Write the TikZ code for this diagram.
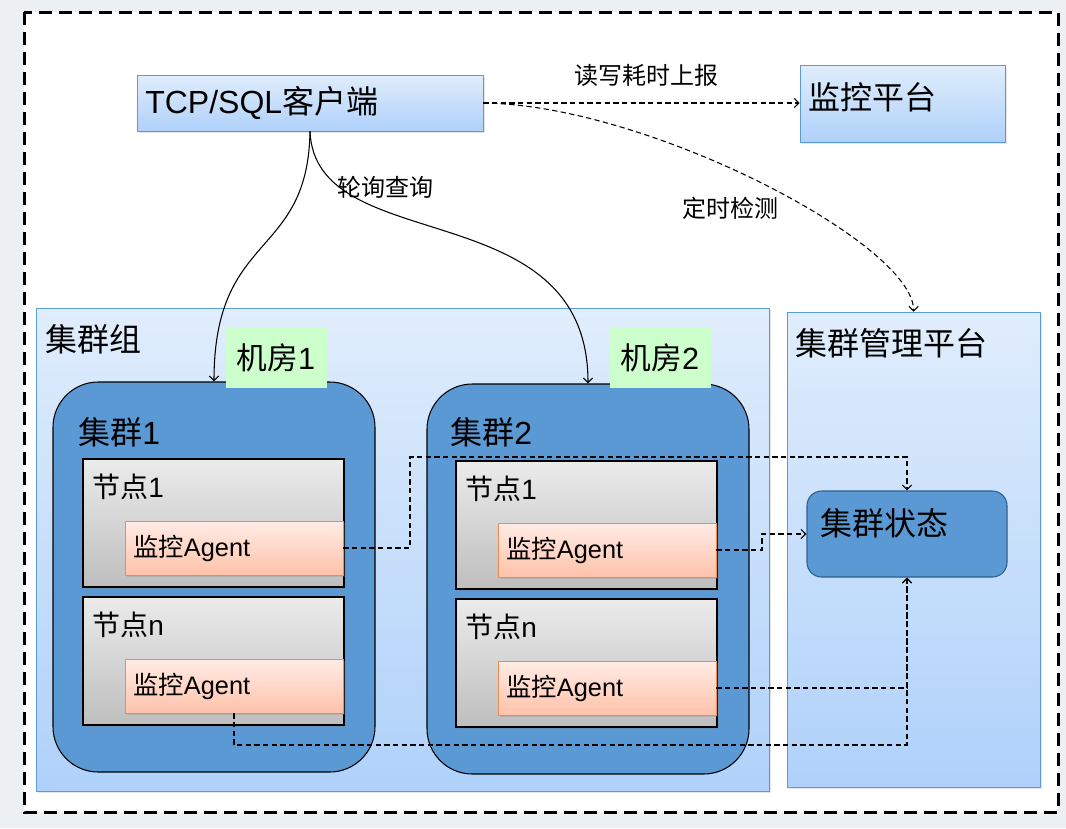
\documentclass[tikz,border=0pt]{standalone}
\usepackage{fontspec}
\setmainfont{Noto Sans CJK SC}
\newfontfamily\lat{Liberation Sans}
\usetikzlibrary{fit,shadows,arrows.meta}

\definecolor{edgeblue}{HTML}{5B9BD5}
\definecolor{paneltop}{HTML}{E0EDFC}
\definecolor{panelbot}{HTML}{AFD1FA}
\definecolor{clublue}{HTML}{5B99D4}
\definecolor{roomgreen}{HTML}{CCFFCC}
\definecolor{agenttop}{HTML}{FFECE5}
\definecolor{agentbot}{HTML}{FFC2AA}
\definecolor{agentedge}{HTML}{F28A4E}
\definecolor{hosttop}{HTML}{EBEBEB}
\definecolor{hostbot}{HTML}{BEBEBE}
\definecolor{stedge}{HTML}{2E5E8E}
\definecolor{slidebg}{HTML}{ECF0F3}

\begin{document}
\begin{tikzpicture}[x=0.75pt,y=-0.75pt,>={Straight Barb[length=3.5pt,width=7pt]},
	bigtxt/.style={inner sep=0pt,font=\fontsize{24}{28}\selectfont},
	hosttxt/.style={inner sep=0pt,font=\fontsize{21}{25}\selectfont},
	midtxt/.style={inner sep=0pt,font=\fontsize{19}{23}\selectfont},
	smtxt/.style={inner sep=0pt,font=\fontsize{18}{22}\selectfont},
	link/.style={->,line width=.8pt},
	dlink/.style={->,line width=.8pt,dash pattern=on 4pt off 2.5pt},
	panel/.style={draw=edgeblue,top color=paneltop,bottom color=panelbot,inner sep=0pt,
		drop shadow={shadow xshift=1.5pt,shadow yshift=-1.5pt,opacity=.2}},
	cluster/.style={draw=black,fill=clublue,rounded corners=34pt,inner sep=0pt,line width=.8pt},
	room/.style={fill=roomgreen,minimum width=75.75pt,minimum height=45pt,
		font=\fontsize{23}{27}\selectfont},
	hostbox/.style={draw=black,top color=hosttop,bottom color=hostbot,inner sep=0pt,line width=.8pt,
		drop shadow={shadow xshift=1.5pt,shadow yshift=-1.5pt,opacity=.25}},
	agentbox/.style={draw=agentedge,top color=agenttop,bottom color=agentbot,inner sep=0pt,
		drop shadow={shadow xshift=1.5pt,shadow yshift=-1.5pt,opacity=.25}},
	statebox/.style={draw=stedge,fill=clublue,rounded corners=11pt,inner sep=0pt,line width=.8pt},
	outer/.style={draw=black,line width=2.25pt,dash pattern=on 10pt off 5pt}]
	\useasboundingbox (0,0) rectangle (1066,828);
	\fill[slidebg] (0,0) rectangle (1066,828);
	\fill[white] (24,12) rectangle (1058,812);
	\draw[outer] (24,12) rectangle (1058,812);

	% top row
	\node[panel,fit={(137,75)(483,131)}] (cli) {};
	\node[bigtxt,anchor=west] (cliT) at (145,103) {{\lat TCP/SQL}客户端};
	\node[panel,fit={(800,65)(1005,142)}] (mon) {};
	\node[bigtxt,anchor=west] (monT) at (808,97) {监控平台};

	% group and management panels
	\node[panel,fit={(36,308)(769,791)}] (grp) {};
	\node[bigtxt,anchor=west] (grpT) at (45,339) {集群组};
	\node[panel,fit={(787,312)(1040,787)}] (mgr) {};
	\node[bigtxt,anchor=west] (mgrT) at (795,343) {集群管理平台};

	% clusters
	\node[cluster,fit={(53,382)(375,772)}] (c1) {};
	\node[bigtxt,anchor=west] (c1T) at (78,432) {集群{\lat 1}};
	\node[cluster,fit={(427,384)(749,774)}] (c2) {};
	\node[bigtxt,anchor=west] (c2T) at (450,432) {集群{\lat 2}};
	\node[room] (r1) at (276,358) {机房{\lat 1}};
	\node[room] (r2) at (660,358) {机房{\lat 2}};

	% nodes of cluster 1
	\node[hostbox,fit={(83,459)(344,587)}] (h11) {};
	\node[hosttxt,anchor=west] (h11T) at (92,487) {节点{\lat 1}};
	\node[agentbox,fit={(125,521)(343,575)}] (a11) {};
	\node[midtxt,anchor=west] (a11T) at (133,548) {监控{\lat Agent}};
	\node[hostbox,fit={(83,597)(344,725)}] (h12) {};
	\node[hosttxt,anchor=west] (h12T) at (92,625) {节点{\lat n}};
	\node[agentbox,fit={(125,659)(343,713)}] (a12) {};
	\node[midtxt,anchor=west] (a12T) at (133,686) {监控{\lat Agent}};

	% nodes of cluster 2
	\node[hostbox,fit={(456,461)(717,589)}] (h21) {};
	\node[hosttxt,anchor=west] (h21T) at (465,489) {节点{\lat 1}};
	\node[agentbox,fit={(498,523)(716,577)}] (a21) {};
	\node[midtxt,anchor=west] (a21T) at (506,550) {监控{\lat Agent}};
	\node[hostbox,fit={(456,599)(717,727)}] (h22) {};
	\node[hosttxt,anchor=west] (h22T) at (465,627) {节点{\lat n}};
	\node[agentbox,fit={(498,661)(716,715)}] (a22) {};
	\node[midtxt,anchor=west] (a22T) at (506,688) {监控{\lat Agent}};

	% cluster state
	\node[statebox,fit={(807,491)(1007,577)}] (st) {};
	\node[bigtxt,anchor=west] (stT) at (820,523) {集群状态};

	% edge labels
	\node[smtxt] (l1) at (646,75) {读写耗时上报};
	\node[smtxt] (l2) at (730,208) {定时检测};
	\node[smtxt] (l3) at (385,187) {轮询查询};

	% connectors
	\draw[dlink] (cli.east) -- (cli.east -| mon.west);
	\draw[dlink] (cli.east) .. controls (650,105) and (915,245) .. (mgr.north);
	\draw[link] (cli.south) .. controls (308,260) and (214,230) .. (c1.north);
	\draw[link] (cli.south) .. controls (315,260) and (588,190) .. (c2.north);
	\coordinate (jn) at (907,745);
	\draw[dlink] (a11.east) -| (410,457) -| (st.north);
	\draw[dlink] (a21.east) -| (762,534) -- (st.west);
	\draw[dlink] (a22.east) -| (st.south);
	\draw[dlink] (a12.south) |- (jn) -- (st.south);
\end{tikzpicture}
\end{document}
